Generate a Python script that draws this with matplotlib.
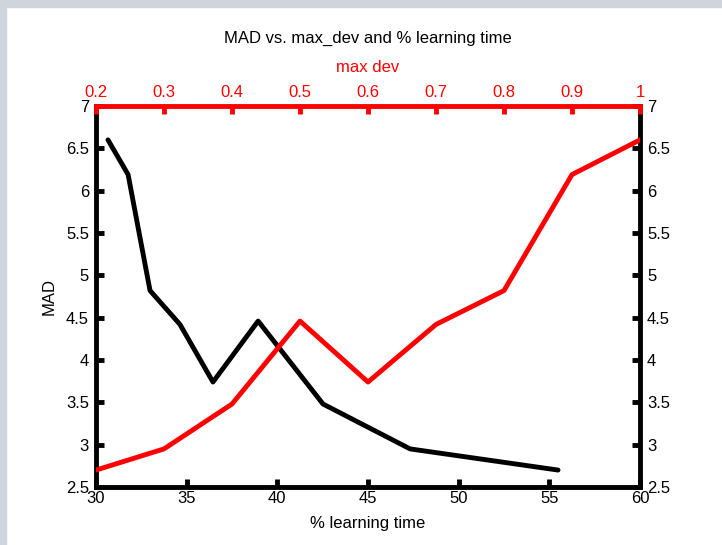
import matplotlib
matplotlib.use("Agg")
import matplotlib.pyplot as plt
from matplotlib.patches import Rectangle

plt.rcParams['font.family'] = ['Liberation Sans', 'DejaVu Sans']

# Data
learning_time = [30.66, 31.77, 32.98, 34.63, 36.45, 38.94, 42.52, 47.32, 55.48]
mad_vs_time = [6.60, 6.19, 4.82, 4.42, 3.74, 4.46, 3.48, 2.95, 2.70]
max_dev = [0.2, 0.3, 0.4, 0.5, 0.6, 0.7, 0.8, 0.9, 1.0]
mad_vs_dev = [2.70, 2.95, 3.48, 4.46, 3.74, 4.42, 4.82, 6.19, 6.60]

x_ticks = [30, 35, 40, 45, 50, 55, 60]
y_ticks = [2.5, 3, 3.5, 4, 4.5, 5, 5.5, 6, 6.5, 7]
y_labels = ['2.5', '3', '3.5', '4', '4.5', '5', '5.5', '6', '6.5', '7']
top_ticks = [0.2, 0.3, 0.4, 0.5, 0.6, 0.7, 0.8, 0.9, 1.0]
top_labels = ['0.2', '0.3', '0.4', '0.5', '0.6', '0.7', '0.8', '0.9', '1']

fs = 12
fig = plt.figure(figsize=(7.22, 5.45), dpi=100)
fig.patch.set_facecolor('white')
gray = '#d0d4dc'
fig.patches.append(Rectangle((0, 1 - 7/545), 1, 7/545, transform=fig.transFigure,
                             color=gray, zorder=0))
fig.patches.append(Rectangle((0, 0), 6/722, 1, transform=fig.transFigure,
                             color=gray, zorder=0))

l, r, b, t = 96/722, 640/722, (545-487)/545, (545-106)/545
ax = fig.add_axes([l, b, r - l, t - b])
ax.plot(learning_time, mad_vs_time, color='black', lw=3.5, solid_capstyle='round', zorder=3)
ax.set_xlim(30, 60)
ax.set_ylim(2.5, 7)
ax.set_xticks(x_ticks)
ax.set_xticklabels([str(v) for v in x_ticks])
ax.set_yticks(y_ticks)
ax.set_yticklabels(y_labels)
ax.tick_params(axis='both', direction='in', length=6, width=3.5, labelsize=fs,
               color='black', labelcolor='black')
ax.tick_params(axis='y', right=True, labelright=True, pad=5)
ax.tick_params(axis='x', top=False, pad=3)
for s in ['left', 'right', 'bottom']:
    ax.spines[s].set_linewidth(3.5)
    ax.spines[s].set_color('black')
ax.spines['top'].set_visible(False)
ax.set_xlabel('% learning time', fontsize=fs, labelpad=7)
ax.set_ylabel('MAD', fontsize=fs, labelpad=7)

ax2 = ax.twiny()
ax2.plot(max_dev, mad_vs_dev, color='red', lw=3.5, solid_capstyle='round', zorder=3)
ax2.set_xlim(0.2, 1.0)
ax2.set_xticks(top_ticks)
ax2.set_xticklabels(top_labels)
ax2.tick_params(axis='x', direction='in', length=6, width=3.5, labelsize=fs,
                color='red', labelcolor='red', pad=4)
for s in ['left', 'right', 'bottom']:
    ax2.spines[s].set_visible(False)
ax2.spines['top'].set_linewidth(3.5)
ax2.spines['top'].set_color('red')
ax2.set_xlabel('max dev', color='red', fontsize=fs, labelpad=10)
ax2.set_title('MAD vs. max_dev and % learning time', fontsize=fs, pad=12)

fig.savefig('out.png', dpi=100)
